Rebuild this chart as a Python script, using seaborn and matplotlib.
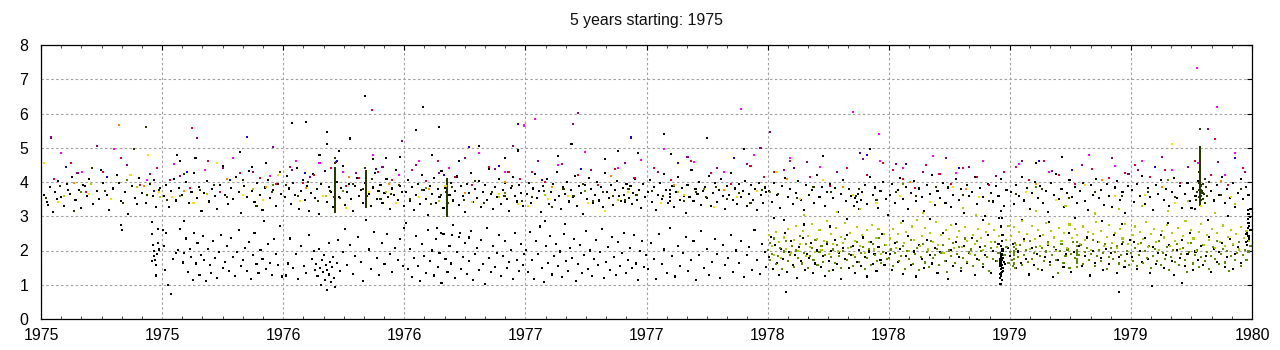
import numpy as np
import pandas as pd
import matplotlib
matplotlib.use("Agg")
import matplotlib.pyplot as plt
import seaborn as sns
from matplotlib.ticker import MultipleLocator, FuncFormatter

START_YEAR = 1975
SPAN_YEARS = 5
TITLE = f"{SPAN_YEARS} years starting: {START_YEAR}"

# Each reading is (day counted from 1 Jan 1975, value).

# black readings in the upper band (values around 3-5)
black_upper = [
    (4,3.62),(9,3.41),(13,3.85),(18,3.12),(21,3.71),(26,4.02),(30,3.55),(35,3.30),(39,3.93),(44,3.66),
    (47,4.15),(52,3.47),(57,3.78),(61,3.24),(66,3.89),(70,3.58),(73,4.08),(79,3.36),(84,3.73),(88,3.50),
    (94,3.96),(99,3.63),(103,3.19),(109,3.81),(114,4.21),(120,3.44),(126,3.70),(131,3.06),(137,3.87),(142,3.53),
    (148,4.12),(153,3.68),(158,3.39),(164,3.95),(169,3.60),(174,3.28),(179,3.82),(11,3.33),(24,3.49),(41,3.77),
    (63,3.92),(91,4.34),(117,3.97),(145,3.35),(171,4.05),(121,2.74),(122,2.60),
    (185,3.58),(189,3.92),(193,3.27),(196,3.74),(201,4.10),(204,3.46),(208,3.83),(212,3.61),(216,2.85),(219,3.99),
    (223,3.39),(227,3.72),(231,4.27),(235,3.54),(238,3.86),(242,3.15),(246,3.67),(250,4.04),(254,3.43),(258,3.79),
    (262,3.58),(266,3.22),(270,3.91),(274,4.48),(278,3.63),(282,3.36),(286,3.82),(290,3.50),(294,4.15),(298,3.71),
    (302,3.09),(306,3.88),(310,3.56),(314,4.33),(318,3.75),(322,3.41),(326,3.97),(330,3.62),(334,3.18),(338,3.84),
    (342,4.06),(346,3.52),(350,3.77),(354,3.30),(358,3.93),(362,3.66),(210,4.62),(233,4.71),(300,4.88),(318,4.45),
    (340,4.55),(205,4.80),(400,5.75),
    (368,3.55),(371,4.18),(374,3.81),(377,3.37),(380,3.96),(383,3.62),(386,4.40),(389,3.20),(392,3.74),(395,4.05),
    (398,3.48),(401,3.88),(404,3.15),(407,3.69),(410,4.22),(413,3.52),(416,3.79),(419,3.06),(422,3.93),(425,3.60),
    (428,4.31),(431,3.42),(434,3.85),(437,3.70),(440,3.26),(446,4.00),(449,3.57),(452,3.83),(455,4.47),(458,3.34),
    (461,3.72),(464,3.95),(467,3.49),(470,3.16),(473,3.87),(476,4.12),(479,3.58),(482,3.77),(485,3.40),(488,3.98),
    (494,3.65),(497,3.29),(500,3.84),(503,4.26),(506,3.51),(509,3.75),(512,3.92),(515,3.38),(518,3.68),(521,4.09),
    (524,3.55),(527,3.22),(530,3.81),(533,3.63),(536,4.36),(539,3.47),(542,3.89),(545,3.71),(548,3.30),(379,5.71),
    (420,4.78),(431,5.10),(466,5.27),(489,6.52),(500,4.68),(432,5.45),(450,4.90),(520,4.70),(541,4.74),
    (550,3.71),(553,4.05),(556,3.44),(559,3.86),(562,3.18),(565,3.62),(568,3.93),(571,3.35),(574,4.20),(577,3.77),
    (580,3.51),(583,3.04),(586,3.89),(589,3.66),(592,4.11),(595,3.40),(598,3.79),(601,3.57),(604,4.31),(607,3.25),
    (610,3.83),(616,3.61),(619,3.97),(622,3.46),(625,3.74),(628,4.16),(631,3.33),(634,3.88),(637,3.59),(640,3.12),
    (643,3.95),(646,3.68),(649,4.25),(652,3.42),(655,3.80),(658,3.53),(661,4.02),(664,3.27),(667,3.71),(670,3.90),
    (673,3.48),(676,4.38),(679,3.64),(682,3.21),(685,3.85),(688,3.56),(691,4.08),(694,3.37),(697,3.76),(700,3.98),
    (703,3.50),(706,3.14),(709,3.82),(712,4.14),(715,3.60),(718,3.43),(721,3.91),(724,3.69),(727,3.30),(590,4.80),
    (630,4.62),(660,5.05),(700,4.70),(565,5.53),(600,5.60),(720,4.92),(576,6.19),
    (733,3.66),(736,3.98),(739,3.40),(742,3.81),(745,4.22),(748,3.53),(751,3.75),(754,3.12),(757,3.89),(760,3.61),
    (763,4.09),(766,3.36),(769,3.72),(772,3.94),(775,3.47),(778,4.30),(781,3.58),(784,3.20),(787,3.84),(790,3.64),
    (793,4.01),(796,3.43),(799,3.77),(802,3.55),(805,4.17),(808,3.31),(811,3.87),(814,3.68),(817,3.07),(820,3.92),
    (823,3.50),(826,4.12),(829,3.79),(832,3.38),(835,3.63),(838,3.99),(841,3.46),(844,3.85),(847,3.27),(850,4.26),
    (853,3.70),(856,3.52),(859,3.90),(862,3.34),(865,3.78),(868,4.04),(871,3.59),(874,3.45),(877,3.82),(879,3.62),
    (881,3.41),(883,3.95),(885,3.71),(887,3.53),(889,3.88),(891,3.36),(893,3.67),(896,4.10),(899,3.48),(902,3.76),
    (905,3.24),(908,3.93),(911,3.57),(780,4.75),(800,5.12),(850,4.68),(870,4.90),(900,4.85),
    (915,3.70),(918,4.06),(921,3.42),(924,3.85),(927,3.19),(930,3.63),(933,3.96),(936,3.51),(939,4.23),(942,3.76),
    (945,3.38),(948,3.55),(948,3.66),(948,3.78),(948,3.45),(951,3.89),(954,3.27),(957,3.71),(960,4.14),(963,3.48),
    (966,3.83),(969,3.60),(972,3.10),(975,3.92),(978,3.57),(981,4.35),(984,3.44),(987,3.80),(990,3.65),(993,4.01),
    (996,3.33),(999,3.74),(1002,3.86),(1005,3.52),(1008,4.18),(1011,3.29),(1014,3.69),(1017,3.97),(1020,3.41),(1023,3.78),
    (1026,4.09),(1029,3.58),(1032,3.22),(1035,3.87),(1038,3.63),(1041,4.27),(1044,3.47),(1047,3.81),(1050,3.36),(1053,3.94),
    (1056,3.55),(1059,3.73),(1062,4.04),(1065,3.31),(1068,3.66),(1071,3.90),(1074,3.48),(1077,3.79),(1080,3.18),(1083,3.98),
    (1086,3.61),(1089,3.40),(1092,3.84),(1094,3.70),(950,4.82),(1005,5.28),(1060,4.95),(940,5.40),
    (1098,3.75),(1102,3.42),(1106,3.98),(1110,3.61),(1114,3.24),(1118,3.87),(1122,4.11),(1126,3.55),(1130,3.80),(1134,3.35),
    (1138,3.68),(1142,4.02),(1146,3.48),(1150,3.17),(1154,3.92),(1158,3.63),(1162,3.78),(1166,3.40),(1170,4.20),(1174,3.57),
    (1178,3.86),(1182,3.29),(1186,3.71),(1190,3.95),(1194,3.52),(1198,3.82),(1202,3.12),(1206,3.66),(1210,4.07),(1214,3.45),
    (1218,3.79),(1222,3.58),(1226,3.30),(1228,3.52),(1230,3.41),(1232,3.64),(1234,3.22),(1236,3.47),(1238,3.71),(1242,3.90),
    (1246,3.36),(1250,4.15),(1254,3.62),(1258,3.84),(1262,3.25),(1266,3.73),(1270,3.99),(1274,3.50),(1277,3.05),(1105,2.95),
    (1120,2.88),(1150,2.76),(1190,2.70),(1215,2.92),(1180,4.75),(1250,4.95),
    (1280,3.62),(1284,3.95),(1288,3.38),(1292,3.78),(1296,4.12),(1300,3.50),(1304,3.86),(1308,3.21),(1312,3.69),(1316,4.03),
    (1320,3.44),(1324,3.81),(1328,3.57),(1332,3.15),(1336,3.92),(1340,3.66),(1344,4.20),(1348,3.33),(1352,3.75),(1356,3.52),
    (1360,3.98),(1364,3.40),(1368,3.84),(1372,3.27),(1376,3.63),(1380,4.08),(1384,3.47),(1388,3.79),(1392,3.10),(1396,3.90),
    (1400,3.58),(1404,3.72),(1408,4.15),(1412,3.36),(1416,3.83),(1420,3.55),(1424,3.02),(1428,3.94),(1432,3.68),(1436,3.43),
    (1440,3.88),(1444,3.60),(1448,4.10),(1452,3.30),(1456,3.76),(1300,2.85),(1340,2.92),(1380,2.78),(1420,2.88),(1445,2.95),
    (1463,3.70),(1467,3.35),(1471,3.92),(1475,3.58),(1479,4.14),(1483,3.46),(1487,3.82),(1491,3.22),(1495,3.67),(1499,4.01),
    (1503,3.53),(1507,3.88),(1511,3.40),(1515,3.74),(1519,3.12),(1523,3.96),(1527,3.61),(1531,4.22),(1535,3.49),(1539,3.80),
    (1543,3.28),(1547,3.69),(1551,4.06),(1555,3.56),(1559,3.85),(1563,3.38),(1567,3.73),(1571,3.98),(1575,3.44),(1579,3.17),
    (1583,3.90),(1587,3.63),(1591,4.10),(1595,3.52),(1599,3.78),(1603,3.33),(1607,3.95),(1611,3.59),(1615,3.26),(1619,3.84),
    (1623,4.03),(1627,3.48),(1631,3.71),(1635,3.09),(1639,3.87),(1480,2.90),(1520,2.82),(1560,2.95),(1600,2.86),(1630,2.78),
    (1500,4.55),(1540,4.72),
    (1645,3.78),(1649,3.42),(1653,3.95),(1657,3.60),(1661,4.18),(1665,3.36),(1669,3.83),(1673,3.55),(1677,3.19),(1681,3.90),
    (1685,3.66),(1689,4.05),(1693,3.47),(1697,3.79),(1701,3.30),(1705,3.71),(1709,4.11),(1713,3.52),(1717,3.87),(1721,3.24),
    (1725,3.64),(1729,3.98),(1733,3.45),(1737,3.81),(1741,3.58),(1745,4.02),(1765,3.73),(1769,3.46),(1773,3.92),(1777,3.61),
    (1781,4.15),(1785,3.38),(1789,3.80),(1793,3.54),(1797,3.96),(1801,3.27),(1805,3.69),(1809,4.08),(1813,3.50),(1817,3.86),
    (1821,3.63),(1824,3.20),(1740,3.20),(1735,3.25),
]

# black readings in the lower band (values around 1-3)
black_lower = [
    (167,2.84),(168,2.49),(169,2.15),(170,1.98),(171,1.83),(172,1.72),(168,1.68),(173,1.27),(175,1.90),(176,2.22),
    (174,1.58),(177,2.63),(178,2.03),
    (184,2.60),(186,2.12),(187,1.42),(189,2.50),(192,1.00),(196,0.72),(199,1.74),(203,1.93),(207,2.02),(210,2.62),
    (214,1.65),(216,1.93),(218,2.35),(221,1.38),(224,2.05),(226,1.80),(229,1.14),(231,2.52),(234,1.62),(236,2.21),
    (239,1.29),(241,1.88),(244,2.42),(246,1.71),(249,1.10),(252,2.05),(255,1.57),(257,1.34),(260,2.28),(263,1.79),
    (266,1.21),(268,1.95),(271,2.44),(274,1.48),(277,1.66),(280,2.13),(283,1.39),(286,2.37),(289,1.82),(292,1.25),
    (295,1.96),(298,2.61),(301,1.54),(304,1.72),(307,2.08),(310,1.41),(313,2.25),(316,1.17),(319,1.88),(322,2.51),
    (325,1.60),(328,1.33),(331,2.02),(334,1.75),(337,2.86),(340,1.47),(343,2.19),(346,1.64),(349,1.28),(352,2.33),
    (355,1.90),(358,1.57),(361,2.71),(364,1.24),
    (369,1.27),(372,1.62),(376,2.35),(380,1.48),(384,1.91),(388,1.18),(392,2.12),(396,1.55),(400,1.34),(404,2.44),
    (408,1.76),(411,1.99),(413,1.42),(415,1.61),(417,1.25),(419,2.05),(421,1.50),(422,0.98),(424,1.71),(425,1.36),
    (427,1.88),(428,1.15),(430,1.57),(431,0.86),(432,1.44),(434,1.30),(435,2.21),(436,1.67),(438,1.08),(439,1.52),
    (441,1.80),(442,1.21),(444,0.93),(446,1.63),(448,2.30),(451,1.40),(455,1.95),(458,2.62),(462,1.58),(466,2.15),
    (470,1.32),(474,1.85),(478,2.40),(482,1.66),(486,1.12),(490,2.90),(494,2.03),(498,1.45),(502,2.55),(506,1.78),
    (510,1.29),(514,2.22),(518,1.60),(522,2.48),(526,1.90),(530,1.37),(534,2.08),(538,1.72),(542,2.34),(546,1.55),
    (548,2.65),
    (550,2.80),(553,1.45),(556,2.05),(559,1.22),(562,1.78),(565,2.42),(568,1.56),(571,1.10),(574,2.18),(577,1.85),
    (580,1.34),(583,2.60),(586,1.68),(589,2.00),(592,1.27),(595,2.33),(598,1.52),(601,1.92),(604,1.06),(607,2.48),
    (610,1.74),(613,1.38),(616,2.14),(619,1.62),(622,2.75),(625,1.19),(628,1.96),(631,2.39),(634,1.47),(637,1.81),
    (640,2.22),(643,1.31),(646,1.70),(649,2.56),(652,1.14),(655,1.89),(658,2.08),(661,1.43),(664,2.31),(667,1.60),
    (670,1.02),(673,2.67),(676,1.77),(679,1.36),(682,2.12),(685,1.53),(688,1.94),(691,2.45),(694,1.25),(697,1.83),
    (700,2.29),(703,1.48),(706,1.66),(709,2.02),(712,1.18),(715,2.51),(718,1.72),(721,1.40),(724,2.20),(727,1.58),
    (729,1.90),(597,2.66),(603,2.52),(620,2.44),(645,2.38),(632,2.50),
    (732,2.02),(735,1.38),(738,2.55),(741,1.72),(744,1.16),(747,2.28),(750,1.90),(753,2.70),(756,1.49),(759,1.08),
    (762,2.13),(765,1.63),(768,2.41),(771,1.30),(774,1.84),(777,2.20),(780,1.54),(783,1.97),(786,1.22),(789,2.47),
    (792,1.70),(795,1.41),(798,2.06),(801,1.79),(804,2.34),(807,1.12),(810,1.60),(813,2.17),(816,1.35),(819,1.88),
    (822,2.58),(825,1.47),(828,2.00),(831,1.26),(834,1.75),(837,2.31),(840,1.58),(843,1.95),(846,2.62),(849,1.19),
    (852,1.66),(855,2.10),(858,1.43),(861,2.39),(864,1.82),(867,1.28),(870,2.24),(873,1.56),(876,1.93),(879,2.52),
    (882,1.33),(885,1.71),(888,2.08),(891,1.49),(894,2.44),(897,1.62),(900,1.15),(903,1.99),(906,2.27),(909,1.52),
    (912,1.86),(760,2.85),(790,2.78),
    (916,1.47),(920,2.21),(924,1.76),(928,1.18),(932,2.48),(936,1.60),(940,2.03),(944,1.35),(948,2.66),(952,1.83),
    (956,1.24),(960,2.12),(964,1.55),(968,1.94),(972,2.39),(976,1.40),(980,1.71),(984,2.27),(988,1.14),(992,1.88),
    (996,2.56),(1000,1.50),(1004,2.05),(1008,1.29),(1012,1.67),(1016,2.34),(1020,1.91),(1024,1.20),(1028,2.16),(1032,1.59),
    (1036,1.78),(1040,2.45),(1044,1.37),(1048,2.00),(1052,1.64),(1056,2.29),(1060,1.23),(1064,1.86),(1068,2.10),(1072,1.44),
    (1076,2.60),(1080,1.73),(1084,1.32),(1088,2.19),(1092,1.96),(1094,1.52),
    (1098,1.82),(1101,2.40),(1104,1.47),(1107,2.15),(1110,1.63),(1113,1.29),(1116,2.05),(1119,1.74),(1122,2.52),(1123,0.80),
    (1125,1.38),(1128,1.96),(1131,2.27),(1134,1.58),(1137,1.88),(1140,1.21),(1143,2.11),(1146,1.69),(1149,2.36),(1152,1.44),
    (1155,1.90),(1158,1.77),(1161,2.22),(1164,1.35),(1167,1.62),(1170,2.00),(1173,2.60),(1176,1.52),(1179,1.85),(1182,1.26),
    (1185,2.18),(1188,1.70),(1191,1.99),(1194,1.42),(1197,2.31),(1200,1.60),(1203,1.93),(1206,1.18),(1209,2.08),(1212,1.75),
    (1215,2.45),(1218,1.49),(1221,1.87),(1224,2.14),(1227,1.33),(1230,1.66),(1233,2.02),(1236,1.55),(1239,2.38),(1242,1.80),
    (1245,1.24),(1248,1.97),(1251,2.25),(1254,1.61),(1257,1.89),(1260,1.40),(1263,2.10),(1266,1.73),(1269,2.48),(1272,1.57),
    (1275,1.92),
    (1280,1.90),(1284,1.43),(1288,2.22),(1292,1.67),(1296,2.05),(1300,1.31),(1304,1.83),(1308,2.41),(1312,1.58),(1316,1.97),
    (1320,1.24),(1324,2.15),(1328,1.76),(1332,1.49),(1336,2.30),(1340,1.88),(1344,1.62),(1348,2.07),(1352,1.35),(1356,1.95),
    (1360,2.50),(1364,1.70),(1368,1.18),(1372,2.01),(1376,1.55),(1380,2.26),(1384,1.80),(1388,1.40),(1392,2.12),(1396,1.65),
    (1400,1.93),(1404,2.37),(1408,1.28),(1412,1.74),(1416,2.09),(1420,1.52),(1424,1.86),(1428,2.44),(1432,1.33),(1436,1.99),
    (1440,1.69),(1444,2.18),
    (1446,1.20),(1447,1.32),(1448,1.45),(1449,1.57),(1447,1.68),(1448,1.80),(1449,1.91),(1450,2.03),(1448,1.25),(1449,1.38),
    (1450,1.50),(1446,1.62),(1447,1.74),(1450,1.86),(1451,1.98),(1449,1.14),(1451,1.41),(1452,1.66),(1446,1.93),(1448,2.12),
    (1449,2.28),(1447,1.02),(1450,2.45),(1448,2.70),(1449,2.95),(1448,3.15),(1454,1.60),(1458,2.06),
    (1448,1.35),(1449,1.48),(1448,1.62),(1449,1.72),(1448,1.86),(1449,2.00),(1447,1.55),(1450,1.78),
    (1462,1.85),(1466,2.20),(1470,1.48),(1474,1.97),(1478,1.63),(1482,2.34),(1486,1.76),(1490,1.30),(1494,2.08),(1498,1.59),
    (1502,1.91),(1506,2.42),(1510,1.44),(1514,1.80),(1518,2.15),(1522,1.67),(1526,1.23),(1530,2.01),(1534,1.73),(1538,2.27),
    (1542,1.52),(1546,1.89),(1550,2.50),(1554,1.38),(1558,1.95),(1562,1.70),(1566,2.12),(1570,1.56),(1574,1.84),(1578,2.38),
    (1582,1.27),(1586,1.99),(1590,1.64),(1594,2.24),(1598,1.78),(1602,1.42),(1606,2.05),(1610,1.61),(1614,1.93),(1618,2.46),
    (1622,1.34),(1626,1.82),(1630,2.18),(1634,1.53),(1638,1.90),(1642,2.30),(1625,0.80),
    (1645,1.82),(1649,2.25),(1653,1.46),(1657,1.98),(1661,1.67),(1665,2.37),(1669,1.74),(1673,1.33),(1677,2.09),(1681,1.61),
    (1685,1.93),(1689,2.44),(1693,1.50),(1697,1.86),(1701,2.17),(1705,1.69),(1709,1.28),(1713,2.02),(1717,1.78),(1721,2.30),
    (1725,1.55),(1729,1.90),(1733,2.52),(1737,1.42),(1741,1.97),(1745,1.72),(1749,2.13),(1753,1.58),(1757,1.84),(1761,2.40),
    (1765,1.36),(1769,2.05),(1773,1.66),(1777,1.95),(1781,2.21),(1785,1.52),(1789,1.80),(1793,2.33),(1797,1.45),(1801,1.91),
    (1805,2.10),(1809,1.64),(1813,1.88),(1817,2.26),
    (1819,2.15),(1820,2.28),(1821,2.41),(1819,2.54),(1820,2.67),(1821,2.80),(1820,2.93),(1821,3.06),(1820,3.19),(1822,2.35),
    (1822,2.72),(1823,2.98),(1818,2.48),(1824,2.60),(1760,2.90),(1700,2.80),(1790,3.00),(1675,0.95),(1720,1.05),
]

# dark olive readings, including the dense runs on single days
olive_pts = [
    (7,3.52),(28,3.88),(50,3.15),(77,4.42),(96,3.73),(124,3.38),(140,4.95),(158,5.60),(160,3.62),(178,3.78),
    (190,3.48),(215,4.22),(240,3.77),(261,3.90),(280,3.55),(305,4.05),(325,3.30),(348,3.70),(360,4.28),
    (370,3.92),(387,3.60),(402,4.00),(418,3.45),(436,3.73),(451,3.52),(470,3.95),(486,3.80),(499,4.08),(512,3.50),
    (528,3.66),(540,3.92),
    (443,3.12),(443,3.22),(443,3.31),(443,3.40),(443,3.49),(443,3.58),(443,3.67),(443,3.76),(443,3.85),(443,3.94),
    (443,4.03),(443,4.12),(443,4.21),(443,4.30),(443,4.42),(442,3.55),(444,3.80),(443,4.55),(443,4.70),
    (443,3.17),(443,3.26),(443,3.35),(443,3.44),(443,3.53),(443,3.62),(443,3.71),(443,3.80),(443,3.89),(443,3.98),
    (443,4.07),(443,4.16),(443,4.25),(443,4.36),
    (490,3.36),(490,3.45),(490,3.54),(490,3.63),(490,3.72),(490,3.81),(490,3.90),(490,3.99),(490,4.08),(490,4.17),
    (490,4.26),(489,4.40),(491,3.58),(490,3.27),
    (490,3.31),(490,3.40),(490,3.49),(490,3.58),(490,3.67),(490,3.76),(490,3.85),(490,3.94),(490,4.03),(490,4.12),
    (490,4.21),(490,4.32),
    (557,3.50),(575,3.76),(588,3.35),(603,3.62),(620,3.85),(638,3.48),(655,4.02),(668,3.40),(680,3.70),(699,3.58),
    (711,3.89),(725,3.45),
    (612,3.00),(612,3.09),(612,3.18),(612,3.27),(612,3.36),(612,3.45),(612,3.54),(612,3.63),(612,3.72),(612,3.81),
    (612,3.90),(612,3.99),(612,4.10),(613,3.40),(611,3.70),
    (612,3.05),(612,3.13),(612,3.22),(612,3.31),(612,3.41),(612,3.50),(612,3.58),(612,3.67),(612,3.76),(612,3.86),
    (612,3.95),(612,4.04),
    (740,3.55),(758,3.73),(770,3.28),(788,3.80),(803,3.60),(818,3.95),(833,3.45),(848,3.70),(862,3.58),(880,3.48),
    (886,3.80),(898,3.62),
    (922,3.75),(938,3.58),(955,3.88),(970,3.45),(988,3.72),(1003,3.55),(1018,3.85),(1035,3.50),(1052,3.68),(1070,3.40),
    (1088,3.78),
    (1112,3.66),(1140,3.52),(1165,3.85),(1192,3.70),(1229,3.58),(1233,3.80),(1260,3.48),
    (1290,3.70),(1320,3.58),(1350,3.85),(1390,3.62),(1430,3.45),
    (1470,3.66),(1510,3.80),(1550,3.52),(1590,3.72),(1630,3.60),
    (1670,3.70),(1710,3.55),(1750,3.78),(1752,3.68),(1780,3.62),(1810,3.80),
    (1748,3.32),(1748,3.42),(1748,3.52),(1748,3.62),(1748,3.72),(1748,3.82),(1748,3.92),(1748,4.02),(1748,4.12),(1748,4.22),
    (1748,4.32),(1748,4.42),(1748,4.52),(1748,4.62),(1748,4.72),(1748,4.82),(1748,4.92),(1748,5.02),(1749,3.47),(1749,3.67),
    (1749,3.87),(1747,3.57),(1747,3.77),(1747,3.97),(1750,3.60),(1750,3.90),(1751,3.75),(1752,3.50),(1753,3.95),(1754,3.65),
    (1755,4.10),(1756,3.40),(1757,3.85),(1759,3.58),(1761,4.00),(1746,4.30),(1744,3.70),(1742,3.48),(1748,5.55),
    (1748,3.37),(1748,3.47),(1748,3.57),(1748,3.67),(1748,3.77),(1748,3.87),(1748,3.97),(1748,4.07),(1748,4.17),(1748,4.27),
    (1748,4.37),(1748,4.47),(1748,4.57),(1748,4.67),(1748,4.77),(1748,4.87),(1748,4.97),
]

green_pts = [
    (60,3.70),(130,4.05),(210,3.60),(350,3.90),(455,3.75),(580,3.82),(700,3.68),(820,3.75),(1000,3.80),(1100,3.70),
    (1300,3.95),(1500,3.85),(1700,4.05),
    (1097,2.02),(1099,1.73),(1100,2.21),(1103,1.91),(1105,2.35),(1108,1.60),(1111,1.84),(1114,2.08),(1117,1.45),(1120,1.97),
    (1123,2.28),(1126,1.68),(1129,1.86),(1132,2.14),(1135,1.52),(1138,2.00),(1141,1.79),(1144,2.41),(1147,1.62),(1150,1.93),
    (1153,2.19),(1156,1.48),(1159,1.83),(1162,2.06),(1165,1.71),(1168,2.30),(1171,1.57),(1174,1.95),(1177,2.12),(1180,1.66),
    (1183,1.88),(1186,2.24),(1189,1.39),(1192,1.80),(1195,2.03),(1198,1.64),(1201,2.17),(1204,1.85),(1207,1.50),(1210,1.98),
    (1213,2.33),(1216,1.72),(1219,1.90),(1222,2.09),(1225,1.54),(1228,1.81),(1231,2.26),(1234,1.67),(1237,1.94),(1240,2.11),
    (1243,1.46),(1246,1.78),(1249,2.04),(1252,1.59),(1255,2.20),(1258,1.87),(1261,1.70),(1264,2.37),(1267,1.63),(1270,1.96),
    (1273,2.15),(1276,1.76),
    (1279,1.78),(1282,2.03),(1285,1.56),(1288,1.92),(1291,2.25),(1294,1.69),(1297,1.85),(1300,2.12),(1303,1.47),(1306,1.99),
    (1309,1.74),(1312,2.32),(1315,1.61),(1318,1.90),(1321,2.08),(1324,1.43),(1327,1.82),(1330,2.19),(1333,1.65),(1336,1.96),
    (1339,1.52),(1342,2.27),(1345,1.79),(1348,1.88),(1351,2.05),(1354,1.58),(1357,1.93),(1360,2.16),(1363,1.70),(1366,1.37),
    (1369,2.00),(1372,1.84),(1375,2.22),(1378,1.63),(1381,1.91),(1384,2.10),(1387,1.48),(1390,1.77),(1393,2.35),(1396,1.66),
    (1399,1.95),(1402,2.03),(1405,1.55),(1408,1.86),(1411,2.28),(1414,1.72),(1417,1.98),(1420,1.60),(1423,2.14),(1426,1.81),
    (1429,1.41),(1432,2.07),(1435,1.75),(1438,2.24),(1441,1.68),(1444,1.94),(1453,1.87),(1456,2.11),(1459,1.64),
    (1461,1.95),(1464,1.72),(1466,1.55),(1468,1.62),(1468,1.74),(1468,1.86),(1468,1.98),(1468,2.10),(1469,1.50),(1469,2.22),
    (1467,1.92),(1470,2.05),(1473,1.81),(1476,2.17),(1479,1.59),(1482,1.88),(1485,2.02),(1488,1.67),(1491,2.29),(1494,1.76),
    (1497,1.93),(1500,2.11),(1503,1.45),(1506,1.84),(1509,2.06),(1512,1.69),(1515,1.97),(1518,2.24),(1521,1.57),(1524,1.86),
    (1527,2.09),(1530,1.73),(1533,1.35),(1536,1.99),(1539,2.18),(1542,1.64),(1545,1.83),(1548,2.03),(1551,1.50),(1554,1.91),
    (1557,2.26),(1560,1.78),(1562,1.52),(1562,1.64),(1562,1.76),(1562,1.88),(1562,2.00),(1562,2.12),(1562,2.24),(1563,1.70),
    (1563,1.94),(1566,1.87),(1569,2.15),(1572,1.61),(1575,1.96),(1578,2.07),(1581,1.71),(1584,1.89),(1587,2.31),(1590,1.54),
    (1593,1.85),(1596,2.01),(1599,1.68),(1602,1.92),(1605,2.20),(1608,1.47),(1611,1.80),(1614,2.08),(1617,1.75),(1620,1.95),
    (1623,2.13),(1626,1.62),(1629,1.87),(1632,2.25),(1635,1.70),(1638,1.98),(1641,1.58),
    (1644,1.92),(1647,1.70),(1650,2.08),(1653,1.55),(1656,1.87),(1659,2.21),(1662,1.63),(1665,1.98),(1668,1.78),(1671,2.13),
    (1674,1.49),(1677,1.84),(1680,2.04),(1683,1.68),(1686,2.27),(1689,1.57),(1692,1.93),(1695,1.75),(1698,2.10),(1701,1.44),
    (1704,1.81),(1707,2.01),(1710,1.66),(1713,2.19),(1716,1.59),(1719,1.89),(1722,2.06),(1725,1.72),(1728,1.37),(1731,1.95),
    (1734,2.23),(1737,1.62),(1740,1.86),(1743,2.00),(1746,1.53),(1749,1.82),(1752,2.15),(1755,1.69),(1758,1.96),(1761,1.47),
    (1764,1.83),(1767,2.11),(1770,1.76),(1773,2.29),(1776,1.60),(1779,1.91),(1782,2.05),(1785,1.65),(1788,1.99),(1791,1.41),
    (1794,1.85),(1797,2.17),(1800,1.73),(1803,1.94),(1806,2.24),(1809,1.56),(1812,1.88),(1815,2.02),(1818,1.71),(1821,1.97),
    (1824,2.12),
]

lime_pts = [
    (35,3.60),(75,3.95),(145,3.85),(180,3.55),(250,3.65),(320,3.80),(430,3.58),(520,3.70),(600,3.45),(690,3.55),
    (760,3.62),(870,3.48),(960,3.70),(1050,3.55),
    (1098,2.46),(1102,2.13),(1106,1.88),(1109,2.55),(1113,2.26),(1116,1.79),(1120,2.38),(1124,2.05),(1127,2.64),(1131,1.92),
    (1135,2.31),(1138,2.72),(1142,1.99),(1145,2.20),(1149,2.58),(1153,1.83),(1156,2.43),(1160,2.10),(1163,2.77),(1167,1.95),
    (1170,2.34),(1174,2.61),(1177,2.01),(1181,2.27),(1185,2.85),(1188,1.90),(1192,2.49),(1195,2.18),(1199,2.66),(1202,1.97),
    (1206,2.40),(1209,2.23),(1213,2.80),(1217,2.07),(1220,2.52),(1224,1.86),(1227,2.29),(1231,2.69),(1235,2.12),(1238,2.44),
    (1242,1.94),(1245,2.59),(1249,2.25),(1253,2.75),(1256,2.03),(1260,2.36),(1263,2.62),(1267,1.89),(1271,2.47),(1274,2.16),
    (1150,3.05),(1200,3.12),(1235,3.20),
    (1281,2.35),(1285,2.62),(1289,2.08),(1293,2.48),(1297,2.79),(1301,2.21),(1305,2.55),(1309,1.98),(1313,2.70),(1317,2.30),
    (1321,2.88),(1325,2.14),(1329,2.42),(1333,2.66),(1337,2.03),(1341,2.51),(1345,2.25),(1349,2.83),(1353,2.17),(1357,2.45),
    (1361,1.94),(1365,2.60),(1369,2.33),(1373,2.74),(1377,2.06),(1381,2.40),(1385,2.57),(1389,2.11),(1393,2.68),(1397,2.28),
    (1401,1.90),(1405,2.46),(1409,2.20),(1413,2.63),(1417,2.37),(1421,2.01),(1425,2.53),(1429,2.77),(1433,2.24),(1437,2.59),
    (1441,2.10),(1445,2.43),(1455,2.31),(1459,2.72),(1330,3.10),(1390,3.25),(1410,3.05),
    (1463,2.41),(1467,2.68),(1471,2.15),(1475,2.53),(1479,2.86),(1483,2.27),(1487,2.49),(1491,2.04),(1495,2.72),(1499,2.33),
    (1503,2.60),(1507,2.12),(1511,2.45),(1515,2.80),(1519,2.20),(1523,2.56),(1527,2.38),(1531,1.99),(1535,2.65),(1539,2.29),
    (1543,2.51),(1547,2.08),(1551,2.76),(1555,2.36),(1559,2.62),(1563,2.44),(1567,2.18),(1571,2.70),(1575,2.31),(1579,2.55),
    (1583,2.02),(1587,2.47),(1591,2.83),(1595,2.25),(1599,2.58),(1603,2.14),(1607,2.40),(1611,2.74),(1615,2.22),(1619,2.50),
    (1623,2.06),(1627,2.64),(1631,2.35),(1635,2.78),(1639,2.19),(1500,3.15),(1545,3.30),(1590,3.08),(1625,3.22),
    (1646,2.44),(1650,2.70),(1654,2.18),(1658,2.55),(1662,2.33),(1666,2.82),(1670,2.09),(1674,2.47),(1678,2.63),(1682,2.26),
    (1686,2.01),(1690,2.58),(1694,2.38),(1698,2.75),(1702,2.14),(1706,2.50),(1710,2.29),(1714,2.67),(1718,2.05),(1722,2.42),
    (1726,2.87),(1730,2.21),(1734,2.60),(1738,2.35),(1742,1.98),(1746,2.53),(1750,2.77),(1754,2.17),(1758,2.46),(1762,2.31),
    (1766,2.64),(1770,2.08),(1774,2.52),(1778,2.25),(1782,2.73),(1786,2.12),(1790,2.40),(1794,2.59),(1798,2.20),(1802,2.49),
    (1806,2.03),(1810,2.68),(1814,2.36),(1818,2.56),(1822,2.27),(1660,3.30),(1700,3.15),(1730,3.45),(1770,3.10),(1800,3.35),
]

yellow_pts = [
    (5,4.55),(25,3.42),(72,3.65),(105,3.50),(135,4.20),(162,4.80),(178,3.70),
    (198,3.55),(230,3.40),(265,4.55),(305,3.62),(335,3.48),(358,4.20),
    (390,3.45),(425,3.60),(460,3.25),(495,3.72),(535,3.40),
    (570,3.55),(610,3.88),(650,3.42),(690,3.65),(720,3.35),
    (735,3.30),(765,3.50),(795,3.60),(825,3.38),(850,3.15),(885,3.70),
    (935,3.40),(970,3.62),(1015,3.28),(1050,3.55),(1080,3.75),
    (1110,4.30),(1145,3.50),(1180,4.05),(1225,3.62),(1260,3.38),
    (1295,3.60),(1340,3.42),(1375,3.85),(1415,3.55),
    (1485,3.70),(1530,3.48),(1575,3.90),(1620,3.58),
    (1665,3.62),(1710,3.40),(1750,3.30),(1795,3.55),(1705,5.10),
]

orange_pts = [
    (50,3.98),(118,5.66),(155,3.88),(215,3.75),(280,4.10),(340,3.85),(400,3.82),(465,4.15),(525,3.95),
    (585,3.80),(640,3.68),(700,4.00),(770,3.85),(860,4.18),(955,3.92),(1030,3.78),(1125,4.10),(1210,3.85),
    (1310,4.00),(1395,3.80),(1500,3.95),(1600,4.05),(1690,3.85),(1780,4.02),
]

red_pts = [
    (20,4.10),(45,4.56),(68,3.72),(93,4.30),(120,4.70),(150,3.92),(175,4.40),
    (195,4.05),(225,3.82),(228,5.57),(252,4.62),(270,3.70),(300,4.25),(330,4.12),(355,3.95),
    (375,4.45),(395,3.98),(412,4.20),(438,4.40),(460,3.88),(480,4.12),(499,6.10),(508,4.30),(530,4.05),
    (560,4.35),(580,4.02),(598,4.60),(625,4.15),(650,3.92),(675,4.45),(705,4.28),(722,4.10),
    (740,4.30),(760,4.00),(785,4.52),(810,4.20),(840,3.90),(865,4.38),(895,4.12),
    (925,4.40),(950,4.05),(980,4.62),(1010,4.25),(1040,3.95),(1070,4.48),(1090,4.15),
    (1105,4.30),(1130,4.62),(1160,4.15),(1190,3.88),(1215,4.40),(1245,4.20),(1270,4.55),
    (1285,4.35),(1300,4.10),(1318,3.82),(1335,4.50),(1355,4.22),(1372,3.95),(1390,4.40),(1412,4.15),(1430,3.90),(1452,4.30),
    (1470,4.45),(1490,4.05),(1512,4.60),(1535,4.20),(1560,3.95),(1585,4.38),(1610,4.12),(1635,4.25),
    (1650,4.50),(1672,4.15),(1695,4.35),(1718,3.98),(1740,4.62),(1765,4.20),(1790,3.92),(1812,4.40),(1770,5.25),
]

magenta_pts = [
    (30,4.85),(62,4.28),(110,4.95),(160,4.05),
    (200,4.52),(248,4.35),(290,4.70),(345,4.18),
    (385,4.60),(420,4.55),(455,4.30),(500,4.78),(540,4.20),
    (570,4.62),(615,4.40),(660,4.85),(700,4.28),(728,5.65),
    (745,5.85),(780,4.50),(820,4.88),(870,4.42),(905,4.65),
    (940,4.95),(985,4.58),(1030,4.30),(1056,6.13),(1075,4.80),
    (1130,4.70),(1175,4.45),(1225,6.05),(1264,5.40),(1265,4.60),
    (1300,4.40),(1345,4.75),(1380,4.25),(1420,4.60),
    (1475,4.52),(1520,4.30),(1580,4.78),(1620,4.48),
    (1660,4.62),(1705,4.35),(1745,4.55),(1785,4.20),(1800,4.85),(1743,7.33),(1774,6.18),
]

purple_pts = [
    (15,5.30),(55,4.25),(85,5.05),(130,4.50),(165,4.22),
    (210,4.18),(235,5.28),(275,4.42),(320,4.30),(350,5.02),
    (378,4.35),(405,4.15),(445,4.58),(475,4.25),(515,4.45),(545,5.20),
    (565,4.50),(600,4.25),(640,4.70),(685,4.38),(712,5.05),
    (750,4.62),(802,5.69),(810,6.02),(830,4.35),(880,4.55),
    (930,4.28),(975,4.72),(1020,4.40),(1065,4.52),(1085,5.00),
    (1100,5.45),(1120,4.35),(1155,4.58),(1200,4.30),(1240,4.68),
    (1290,4.52),(1330,4.28),(1365,4.70),(1400,4.45),(1440,4.18),
    (1480,4.62),(1525,4.32),(1570,4.50),(1615,4.70),(1640,4.22),
    (1655,4.35),(1690,4.72),(1730,4.45),(1775,4.58),(1815,4.30),(1760,5.55),
]

blue_pts = [
    (38,4.45),(100,4.15),(170,3.75),(220,4.30),(285,4.05),(310,5.32),(398,4.25),(447,4.62),(505,4.38),
    (608,4.20),(645,5.02),(690,4.48),(720,5.69),(755,4.05),(815,4.38),(890,5.30),(960,4.55),(1045,4.70),
    (1135,4.40),(1235,4.85),(1245,4.80),(1305,4.52),(1385,4.40),(1505,4.60),(1555,4.35),(1680,4.45),(1800,4.70),
]

series = [
    ("black", black_upper + black_lower),
    ("olive", olive_pts),
    ("green", green_pts),
    ("lime", lime_pts),
    ("yellow", yellow_pts),
    ("orange", orange_pts),
    ("red", red_pts),
    ("magenta", magenta_pts),
    ("purple", purple_pts),
    ("blue", blue_pts),
]

palette = {
    "black": "#000000",
    "olive": "#263a00",
    "green": "#5c8c00",
    "lime": "#a8d200",
    "yellow": "#f0e400",
    "orange": "#ff8a00",
    "red": "#e0002a",
    "magenta": "#ff00ff",
    "purple": "#8a0078",
    "blue": "#1c00e0",
}

rows = []
for name, pts in series:
    for day, val in pts:
        rows.append((START_YEAR + day / 365.25, val, name))
df = pd.DataFrame(rows, columns=["year", "value", "group"])

sns.set_style("white")
plt.rcParams["font.family"] = ["Liberation Sans", "DejaVu Sans"]

W, H = 1280, 350
fig = plt.figure(figsize=(W / 100, H / 100), dpi=100)
ax = fig.add_axes([41 / W, 31 / H, 1211 / W, 274 / H])

sns.scatterplot(
    data=df, x="year", y="value", hue="group", palette=palette,
    marker="s", s=2.2, linewidth=0, antialiased=False, legend=False, ax=ax, zorder=3,
)

ax.set_xlim(START_YEAR, START_YEAR + SPAN_YEARS)
ax.set_ylim(0, 8)
ax.xaxis.set_major_locator(MultipleLocator(0.5))
ax.xaxis.set_minor_locator(MultipleLocator(1 / 12))
ax.yaxis.set_major_locator(MultipleLocator(1))
ax.xaxis.set_major_formatter(FuncFormatter(lambda v, p: f"{int(np.floor(v + 1e-6))}"))
ax.yaxis.set_major_formatter(FuncFormatter(lambda v, p: f"{int(round(v))}"))

ax.grid(True, which="major", color="#a0a0a0", linestyle=(0, (2.2, 2.2)), linewidth=0.8, zorder=0)
ax.set_axisbelow(True)
for sp in ax.spines.values():
    sp.set_color("black")
    sp.set_linewidth(0.9)
    sp.set_zorder(5)

ax.tick_params(which="major", direction="in", length=3.5, width=0.8, top=True, right=True,
               labelsize=11.4, colors="black")
ax.tick_params(axis="x", which="minor", direction="in", length=2, width=0.6, top=True, bottom=True)
ax.tick_params(axis="x", which="major", pad=6.5)
ax.tick_params(axis="y", which="major", pad=9)
ax.set_xlabel("")
ax.set_ylabel("")

fig.text(646 / W, 1 - 20 / H, TITLE, ha="center", va="center", fontsize=11.4, color="#111111")

fig.savefig("out.png", dpi=100)
